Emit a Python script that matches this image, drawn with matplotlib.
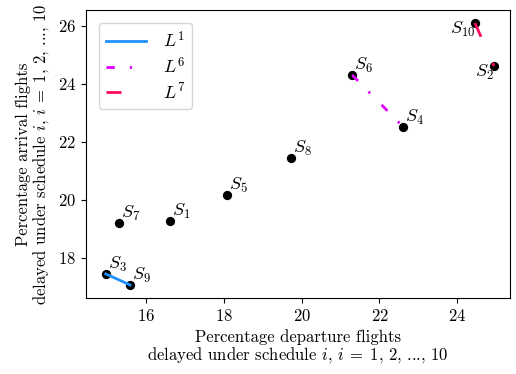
import matplotlib
matplotlib.use("Agg")
import matplotlib.pyplot as plt

plt.rcParams['font.family'] = 'serif'
plt.rcParams['font.serif'] = ['cmr10']
plt.rcParams['mathtext.fontset'] = 'cm'
plt.rcParams['axes.unicode_minus'] = False
plt.rcParams['axes.formatter.use_mathtext'] = True

# Data: schedules S1..S10 (departure %, arrival %)
names = ['S1', 'S2', 'S3', 'S4', 'S5', 'S6', 'S7', 'S8', 'S9', 'S10']
dep = [16.62, 24.94, 14.98, 22.61, 18.09, 21.30, 15.32, 19.73, 15.60, 24.45]
arr = [19.28, 24.62, 17.45, 22.52, 20.17, 24.31, 19.21, 21.45, 17.07, 26.10]

# Lines connecting schedules
line_names = ['$L^1$', '$L^6$', '$L^7$']
line_pairs = [('S3', 'S9'), ('S6', 'S4'), ('S10', 'S2')]
line_colors = ['#1E90FF', '#E000FF', '#FF0A5A']
line_styles = ['-', (0, (3.0, 5.4, 0.8, 5.9)), (0, (5.4, 10.4))]

xticks = [16, 18, 20, 22, 24]
yticks = [18, 20, 22, 24, 26]

fig = plt.figure(figsize=(5.16, 3.74), dpi=100)
ax = fig.add_axes([86/516, 1 - 298/374, (510-86)/516, (298-10)/374])

idx = {n: i for i, n in enumerate(names)}

ax.scatter(dep, arr, s=32, color='black', zorder=2)

for lab, (a, b), c, ls in zip(line_names, line_pairs, line_colors, line_styles):
    ia, ib = idx[a], idx[b]
    ax.plot([dep[ia], dep[ib]], [arr[ia], arr[ib]], color=c, lw=2,
            linestyle=ls, label=lab, zorder=3)

left_labels = {'S10', 'S2'}
for n, x, y in zip(names, dep, arr):
    txt = '$S_{%s}$' % n[1:]
    if n in left_labels:
        ax.annotate(txt, (x, y), xytext=(0, 2), textcoords='offset points',
                    ha='right', va='top', fontsize=13)
    else:
        ax.annotate(txt, (x, y), xytext=(1.5, 0), textcoords='offset points',
                    ha='left', va='bottom', fontsize=13)

ax.set_xlim(14.47, 25.35)
ax.set_ylim(16.62, 26.55)
ax.set_xticks(xticks)
ax.set_yticks(yticks)
ax.tick_params(labelsize=12)

tail = 'delayed under schedule $i,\\,i\\;=\\;1,\\,2,\\,$...$,\\,10$'
ax.set_xlabel('Percentage departure flights\n' + tail,
              fontsize=12, labelpad=4, linespacing=1.0)
ax.set_ylabel('Percentage arrival flights\n' + tail,
              fontsize=12, labelpad=5, linespacing=1.0)

ax.legend(loc='upper left', fontsize=13, handlelength=2.2, handletextpad=0.95,
          labelspacing=0.3, borderpad=0.4, borderaxespad=0.7)

fig.savefig('out.png', dpi=100)
